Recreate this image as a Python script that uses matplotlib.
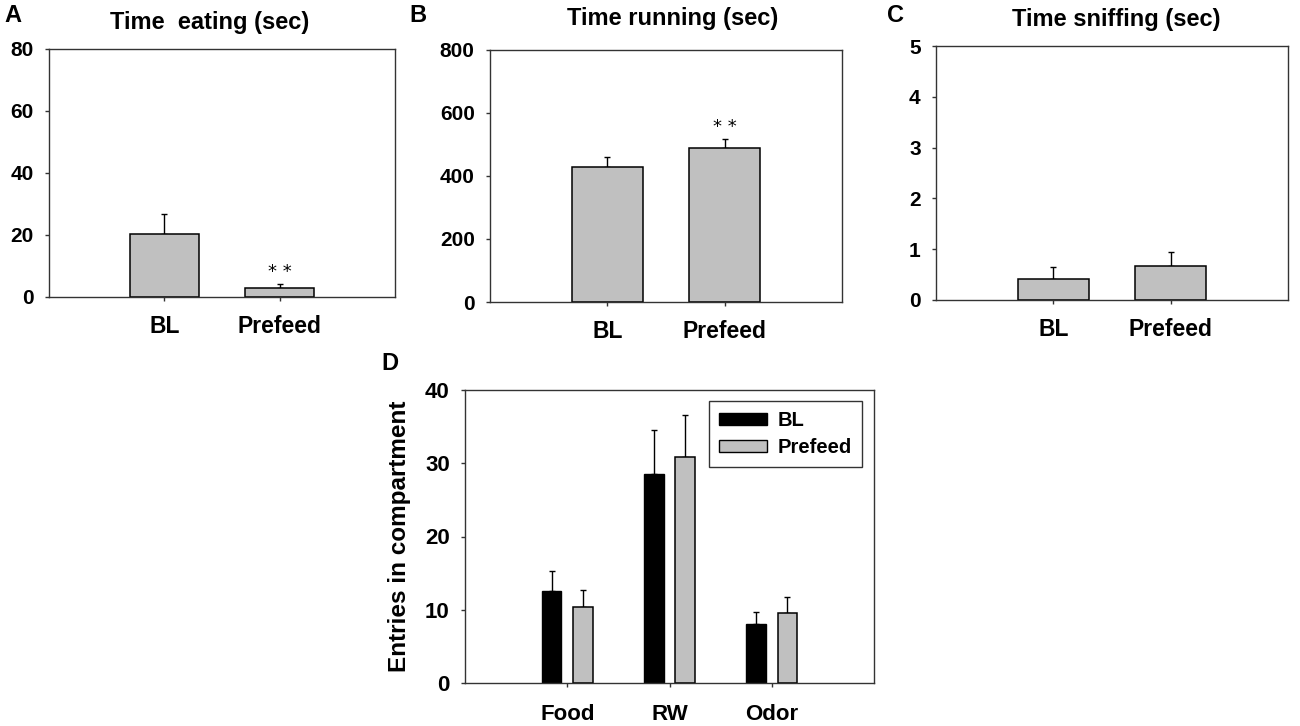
import numpy as np
import matplotlib
matplotlib.use("Agg")
import matplotlib.pyplot as plt
from matplotlib.patches import Patch

plt.rcParams['font.family'] = ['Liberation Sans', 'DejaVu Sans']
plt.rcParams['font.weight'] = 'bold'

# ---- data ----
groups = ['BL', 'Prefeed']

eating_mean = [20.3, 3.0]
eating_err = [6.6, 1.1]

running_mean = [428, 489]
running_err = [32, 29]

sniffing_mean = [0.42, 0.67]
sniffing_err = [0.22, 0.28]

compartments = ['Food', 'RW', 'Odor']
entries_bl = [12.6, 28.5, 8.1]
entries_bl_err = [2.7, 6.1, 1.6]
entries_pre = [10.4, 30.8, 9.6]
entries_pre_err = [2.3, 5.8, 2.1]

W, H = 1300, 726
fig = plt.figure(figsize=(W / 100, H / 100), dpi=100)
fig.patch.set_facecolor('white')

GRAY = '#c0c0c0'
SPINE = '#333333'


def box(x0, y0, x1, y1):
    # pixel box (top-left origin) -> figure fraction
    return [x0 / W, (H - y1) / H, (x1 - x0) / W, (y1 - y0) / H]


def style(ax, ysize=15, xsize=16.5, xpad=10):
    for s in ax.spines.values():
        s.set_color(SPINE)
        s.set_linewidth(1.0)
    ax.tick_params(axis='both', direction='out', length=3, width=1, color=SPINE)
    ax.tick_params(axis='y', labelsize=ysize, pad=8)
    ax.tick_params(axis='x', labelsize=xsize, pad=xpad)
    for lab in ax.get_xticklabels() + ax.get_yticklabels():
        lab.set_fontweight('bold')


def two_bar(ax, means, errs, ymax, yticks, stars=None):
    x = np.arange(1, len(groups) + 1)
    ax.bar(x, means, width=0.6, color=GRAY, edgecolor='black', linewidth=1.1, zorder=2)
    ax.errorbar(x, means, yerr=[np.zeros(len(errs)), errs], fmt='none',
                ecolor='black', elinewidth=1, capsize=2.5, capthick=1, zorder=1)
    ax.set_xlim(0, 3)
    ax.set_ylim(0, ymax)
    ax.set_yticks(yticks)
    ax.set_xticks(x)
    ax.set_xticklabels(groups)
    if stars is not None:
        ax.text(2, stars, '* *', ha='center', va='center', fontsize=13,
                fontweight='normal', family='DejaVu Sans')
    style(ax)


axA = fig.add_axes(box(49, 49, 395, 297))
two_bar(axA, eating_mean, eating_err, 80, [0, 20, 40, 60, 80], stars=8.2)

axB = fig.add_axes(box(490, 50, 842, 302))
two_bar(axB, running_mean, running_err, 800, [0, 200, 400, 600, 800], stars=557)

axC = fig.add_axes(box(936, 46, 1288, 300))
two_bar(axC, sniffing_mean, sniffing_err, 5, [0, 1, 2, 3, 4, 5])

# titles (baseline positions in pixels)
for title, px, py in [('Time  eating (sec)', 210, 29),
                      ('Time running (sec)', 673, 25),
                      ('Time sniffing (sec)', 1116, 26)]:
    fig.text(px / W, 1 - py / H, title, ha='center', va='baseline',
             fontsize=17, fontweight='bold')

# ---- panel D: grouped bars ----
axD = fig.add_axes(box(465, 390, 874, 683))
xc = np.arange(1, len(compartments) + 1)
off, bw = 0.152, 0.19
axD.bar(xc - off, entries_bl, width=bw, color='black', edgecolor='black',
        linewidth=1, zorder=2, label='BL')
axD.bar(xc + off, entries_pre, width=bw, color=GRAY, edgecolor='black',
        linewidth=1.1, zorder=2, label='Prefeed')
axD.errorbar(xc - off, entries_bl, yerr=[np.zeros(3), entries_bl_err], fmt='none',
             ecolor='black', elinewidth=1, capsize=2.5, capthick=1, zorder=1)
axD.errorbar(xc + off, entries_pre, yerr=[np.zeros(3), entries_pre_err], fmt='none',
             ecolor='black', elinewidth=1, capsize=2.5, capthick=1, zorder=1)
axD.set_xlim(0, 4)
axD.set_ylim(0, 40)
axD.set_yticks([0, 10, 20, 30, 40])
axD.set_xticks(xc)
axD.set_xticklabels(compartments)
axD.set_ylabel('Entries in compartment', fontsize=17.5, fontweight='bold', labelpad=10)
style(axD, ysize=16, xsize=16, xpad=12)

handles = [Patch(facecolor='black', edgecolor='black'),
           Patch(facecolor=GRAY, edgecolor='black')]
leg = axD.legend(handles, ['BL', 'Prefeed'], loc='upper right',
                 bbox_to_anchor=(0.971, 0.962), borderaxespad=0, fontsize=14.5,
                 frameon=True, fancybox=False, edgecolor='black',
                 handlelength=2.35, handleheight=0.5, borderpad=0.5,
                 labelspacing=0.4, handletextpad=0.55)
leg.get_frame().set_linewidth(1.0)
for t in leg.get_texts():
    t.set_fontweight('bold')

# panel letters
for letter, px, py in [('A', 13, 16), ('B', 418, 15), ('C', 895, 15), ('D', 390, 364)]:
    fig.text(px / W, 1 - py / H, letter, ha='center', va='center',
             fontsize=17, fontweight='bold')

fig.savefig('out.png', dpi=100, facecolor='white')
